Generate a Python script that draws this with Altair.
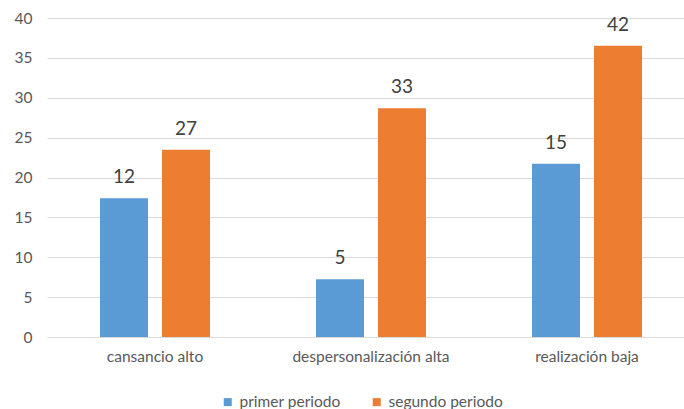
import altair as alt
import pandas as pd

# Burnout dimensions and the two measurement periods
categories = ["cansancio alto", "despersonalización alta", "realización baja"]
periods = ["primer periodo", "segundo periodo"]

# Number of cases per dimension in each period
counts_first = [12, 5, 15]
counts_second = [27, 33, 42]

# Participants evaluated in each period (base of the percentages)
group_sizes = [69, 115]

rows = []
for period, counts, n in zip(periods, [counts_first, counts_second], group_sizes):
    for cat, c in zip(categories, counts):
        rows.append({"categoria": cat, "periodo": period, "casos": c,
                     "porcentaje": c / n * 100})
df = pd.DataFrame(rows)

FONT = "Lato"
colors = ["#5B9BD5", "#ED7D31"]

x = alt.X("categoria:N", sort=categories, title=None,
          scale=alt.Scale(paddingInner=0, paddingOuter=0, range=[0, 648]),
          axis=alt.Axis(labelAngle=0, ticks=False, labelPadding=12,
                        labelFontSize=15.5, labelColor="#595959", labelFont=FONT,
                        domainColor="#d9d9d9", domainWidth=1))
xo = alt.XOffset("periodo:N", sort=periods,
                 scale=alt.Scale(paddingInner=0.226, paddingOuter=0.855))
y = alt.Y("porcentaje:Q", title=None,
          scale=alt.Scale(domain=[0, 40], nice=False),
          axis=alt.Axis(values=list(range(0, 41, 5)), ticks=False, domain=False,
                        labelPadding=15, labelFontSize=15.5, labelColor="#595959",
                        labelFont=FONT, gridColor="#d9d9d9", gridWidth=1))

bars = alt.Chart(df).mark_bar().encode(
    x=x, xOffset=xo, y=y,
    color=alt.Color("periodo:N", sort=periods,
                    scale=alt.Scale(domain=periods, range=colors),
                    legend=alt.Legend(title=None, orient="none", direction="horizontal",
                                      legendX=173, legendY=376,
                                      symbolType="square", symbolSize=64,
                                      symbolStrokeWidth=0, columnPadding=28,
                                      labelFontSize=15.5, labelColor="#595959",
                                      labelFont=FONT)),
)

labels = alt.Chart(df).mark_text(baseline="alphabetic", dy=-15, fontSize=19,
                                 color="#404040", font=FONT).encode(
    x=x, xOffset=xo, y=y, text="casos:Q",
)

chart = (bars + labels).properties(
    width=637, height=319,
    autosize=alt.AutoSizeParams(type="none"),
    padding={"left": 47, "top": 18, "right": 0, "bottom": 72},
).configure_view(stroke=None)

chart.save("out.html", embed_options={"renderer": "svg", "actions": False})
